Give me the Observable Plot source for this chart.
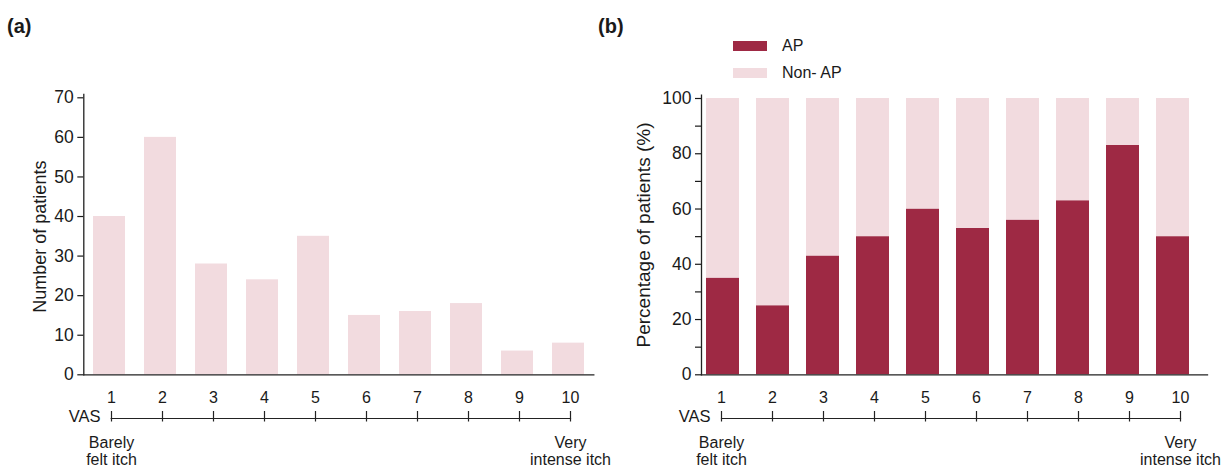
<!DOCTYPE html>
<html><head><meta charset="utf-8">
<script src="https://cdn.jsdelivr.net/npm/d3@7"></script>
<script src="https://cdn.jsdelivr.net/npm/@observablehq/plot@0.6"></script>
<style>
html,body{margin:0;padding:0;background:#fff;}
#root{position:relative;width:1221px;height:467px;overflow:hidden;font-family:"Liberation Sans",Arial,Helvetica,sans-serif;color:#1a1a1a;}
.panel-label{font-weight:bold;font-size:20px;line-height:1;}
.legend-item{position:absolute;display:flex;align-items:center;font-size:16px;line-height:1;}
.swatch{width:34px;height:10px;margin-right:15px;}
</style>
</head><body><div id="root"></div>
<script>
// ---- data ----
const vas = ["1", "2", "3", "4", "5", "6", "7", "8", "9", "10"];
const patientCounts = [40, 60, 28, 24, 35, 15, 16, 18, 6, 8];
const apPercent = [35, 25, 43, 50, 60, 53, 56, 63, 83, 50];
const nonApPercent = [65, 75, 57, 50, 40, 47, 44, 37, 17, 50];
const groups = ["AP", "Non- AP"];
const groupColors = ["#9e2944", "#f2dbdf"];
const countTicks = [0, 10, 20, 30, 40, 50, 60, 70];
const percentTicks = [0, 10, 20, 30, 40, 50, 60, 70, 80, 90, 100];
const percentTickLabels = ["0", "", "20", "", "40", "", "60", "", "80", "", "100"];
const lowLabel = "Barely\nfelt itch";
const highLabel = "Very\nintense itch";
const scaleName = "VAS";
const yLabelA = "Number of patients";
const yLabelB = "Percentage of patients (%)";

const FONT = '"Liberation Sans", Arial, Helvetica, sans-serif';
const INK = "#1a1a1a";
const AXIS = "#222";

const root = document.getElementById("root");
function place(el, left, top) {
  el.style.position = "absolute"; el.style.left = left + "px"; el.style.top = top + "px";
  root.appendChild(el); return el;
}

// ---- panel (a) ----
const rowsA = vas.map((v, i) => ({vas: v, count: patientCounts[i]}));
const plotA = Plot.plot({
  width: 610, height: 380,
  marginTop: 94, marginBottom: 5.7, marginLeft: 83.3, marginRight: 16.7,
  style: {fontFamily: FONT, fontSize: "17px", color: INK, background: "transparent", overflow: "visible"},
  x: {type: "band", domain: vas, paddingInner: 0.365, paddingOuter: 0.18, align: 0.54, axis: null},
  y: {domain: [0, 70], insetTop: 3.3},
  marks: [
    Plot.barY(rowsA, {x: "vas", y: "count", fill: groupColors[1]}),
    Plot.axisY({ticks: countTicks, tickSize: 6, tickPadding: 4, label: null, fontSize: 17.5, strokeWidth: 1.2}),
    Plot.frame({anchor: "left", stroke: AXIS, strokeWidth: 1.3}),
    Plot.frame({anchor: "bottom", stroke: AXIS, strokeWidth: 1.3}),
    Plot.text([yLabelA], {text: d => d, frameAnchor: "left", textAnchor: "middle", lineAnchor: "middle", rotate: -90, dx: -44, dy: 2, fontSize: 18, fill: INK})
  ]
});
place(plotA, 0, 0);

// ---- panel (b) ----
const rowsB = [
  ...apPercent.map((v, i) => ({vas: vas[i], group: groups[0], value: v})),
  ...nonApPercent.map((v, i) => ({vas: vas[i], group: groups[1], value: v}))
];
const plotB = Plot.plot({
  width: 611, height: 380,
  marginTop: 94.7, marginBottom: 5.7, marginLeft: 91, marginRight: 14,
  style: {fontFamily: FONT, fontSize: "17px", color: INK, background: "transparent", overflow: "visible"},
  x: {type: "band", domain: vas, paddingInner: 0.336, paddingOuter: 0.198, align: 0.216, axis: null},
  y: {domain: [0, 100], insetTop: 3.3},
  color: {domain: groups, range: groupColors},
  marks: [
    Plot.barY(rowsB, {x: "vas", y: "value", fill: "group"}),
    Plot.axisY({ticks: percentTicks, tickFormat: d => percentTickLabels[percentTicks.indexOf(d)], tickSize: 6, tickPadding: 4, label: null, fontSize: 17.5, strokeWidth: 1.2}),
    Plot.frame({anchor: "left", stroke: AXIS, strokeWidth: 1.3}),
    Plot.frame({anchor: "bottom", stroke: AXIS, strokeWidth: 1.3}),
    Plot.text([yLabelB], {text: d => d, frameAnchor: "left", textAnchor: "middle", lineAnchor: "middle", rotate: -90, dx: -58, dy: 0, fontSize: 19, fill: INK})
  ]
});
place(plotB, 610, 0);

// ---- VAS strips ----
function strip(width, left, right) {
  return Plot.plot({
    width, height: 87,
    marginTop: 31, marginBottom: 49, marginLeft: left, marginRight: right,
    style: {fontFamily: FONT, color: INK, background: "transparent", overflow: "visible"},
    x: {type: "point", domain: vas, padding: 0, axis: null},
    marks: [
      Plot.frame({anchor: "bottom", stroke: AXIS, strokeWidth: 1.2}),
      Plot.ruleX(vas, {x: d => d, insetBottom: -3.5, stroke: AXIS, strokeWidth: 1.2}),
      Plot.text(vas, {x: d => d, text: d => d, frameAnchor: "top", lineAnchor: "middle", dy: -14, fontSize: 16, fill: INK}),
      Plot.text([scaleName], {x: () => vas[0], text: d => d, frameAnchor: "bottom", lineAnchor: "middle", dx: -11, dy: -1.3, textAnchor: "end", fontSize: 16.5, fill: INK}),
      Plot.text([lowLabel], {x: () => vas[0], text: d => d, frameAnchor: "bottom", lineAnchor: "middle", dy: 32.5, lineHeight: 1.1, fontSize: 16, fill: INK}),
      Plot.text([highLabel], {x: () => vas[vas.length - 1], text: d => d, frameAnchor: "bottom", lineAnchor: "middle", dy: 32.5, lineHeight: 1.1, fontSize: 16, fill: INK})
    ]
  });
}
place(strip(610, 110.7, 40), 0, 380);
place(strip(611, 111, 41), 610, 380);

// ---- panel labels ----
const la = document.createElement("div"); la.className = "panel-label"; la.textContent = "(a)"; place(la, 7, 16);
const lb = document.createElement("div"); lb.className = "panel-label"; lb.textContent = "(b)"; place(lb, 598, 16);

// ---- legend ----
groups.forEach((g, i) => {
  const item = document.createElement("div");
  item.className = "legend-item";
  const sw = document.createElement("div");
  sw.className = "swatch"; sw.style.background = groupColors[i];
  const tx = document.createElement("span"); tx.textContent = g;
  item.appendChild(sw); item.appendChild(tx);
  item.style.left = "733px"; item.style.top = (38 + i * 26.7) + "px";
  root.appendChild(item);
});
</script>
</body></html>
